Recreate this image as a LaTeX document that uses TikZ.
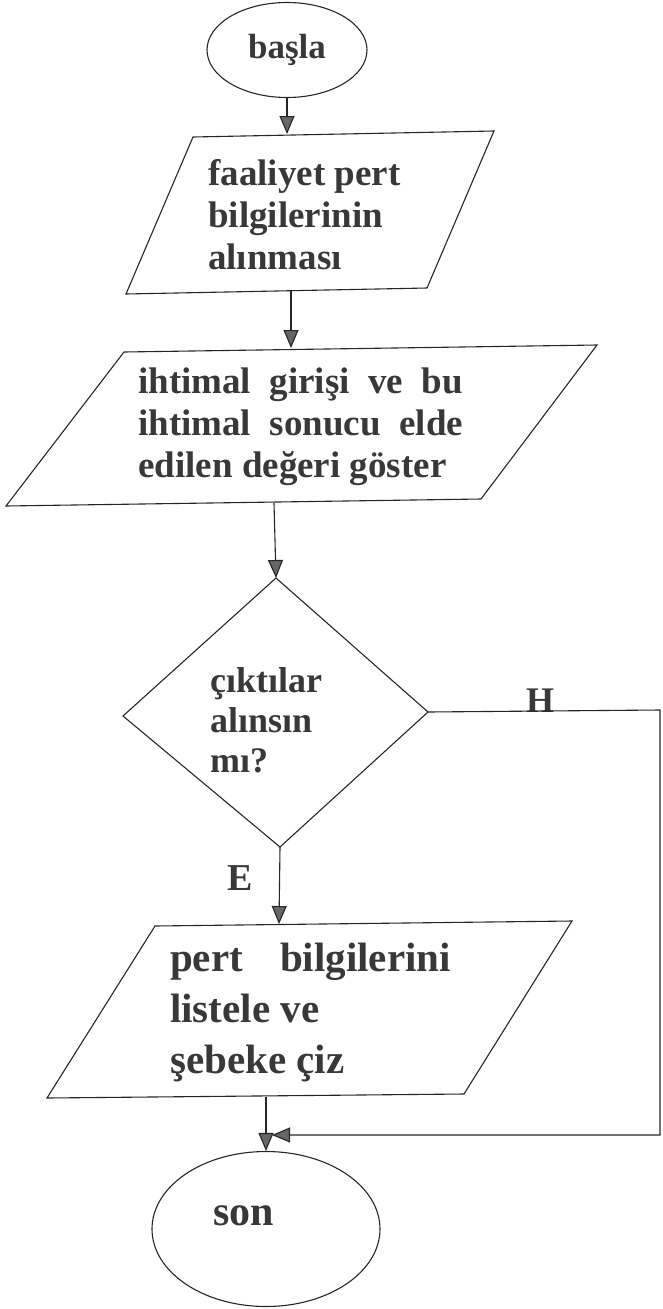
\documentclass[tikz,border=0pt]{standalone}
\usepackage{fontspec}
\newfontfamily\flfont{Liberation Serif}
\usetikzlibrary{shapes.geometric,arrows.meta}
\begin{document}
\begin{tikzpicture}[x=1pt,y=-1pt,
  ln/.style={draw=black!85,line width=1.1pt},
  arr/.style={ln,-{Triangle[length=18pt,width=15pt,fill=black!60]}},
  txt/.style={font=\flfont\bfseries\fontsize{37}{42}\selectfont,text=black!78,align=left,inner sep=0pt},
  lab/.style={font=\flfont\bfseries\fontsize{36}{36}\selectfont,text=black!78,inner sep=0pt}]
\useasboundingbox (0,0) rectangle (662,1309);
% start
\node[ellipse,ln,minimum width=160pt,minimum height=95pt,txt,font=\flfont\bfseries\fontsize{35}{35}\selectfont] (start) at (287,50) {başla};
% parallelogram 1
\coordinate (p1tl) at (193,137);
\coordinate (p1tr) at (494,131);
\coordinate (p1br) at (427,288);
\coordinate (p1bl) at (126,294);
\draw[ln] (p1tl) -- (p1tr) -- (p1br) -- (p1bl) -- cycle;
\coordinate (p1in) at (287,134);
\coordinate (p1out) at (291,291);
\node[txt,anchor=west] (t1) at (208,215) {faaliyet pert\\bilgilerinin\\alınması};
\draw[arr] (start.south) -- (p1in);
% parallelogram 2
\coordinate (p2tl) at (124,352);
\coordinate (p2tr) at (597,345);
\coordinate (p2br) at (481,499);
\coordinate (p2bl) at (6,506);
\draw[ln] (p2tl) -- (p2tr) -- (p2br) -- (p2bl) -- cycle;
\coordinate (p2in) at (291,348);
\coordinate (p2out) at (274,503);
\node[txt,anchor=west] (t2) at (138,427) {ihtimal\ \ girişi\ \ ve\ \ bu\\ihtimal\ \ sonucu\ \ elde\\edilen değeri göster};
\draw[arr] (p1out) -- (p2in);
% decision
\coordinate (dT) at (276,578);
\coordinate (dL) at (123,716);
\coordinate (dR) at (428,712);
\coordinate (dB) at (280,847);
\draw[ln] (dT) -- (dR) -- (dB) -- (dL) -- cycle;
\node[txt,anchor=west,font=\flfont\bfseries\fontsize{36}{40}\selectfont] (t3) at (210,720) {çıktılar\\alınsın\\mı?};
\draw[arr] (p2out) -- (dT);
% parallelogram 3
\coordinate (p3tl) at (155,926);
\coordinate (p3tr) at (572,921);
\coordinate (p3br) at (464,1094);
\coordinate (p3bl) at (47,1098);
\draw[ln] (p3tl) -- (p3tr) -- (p3br) -- (p3bl) -- cycle;
\coordinate (p3in) at (279,924);
\coordinate (p3out) at (266,1097);
\node[txt,anchor=west,font=\flfont\bfseries\fontsize{41}{51}\selectfont] (t4) at (170,1012) {pert\hspace{37pt}bilgilerini\\listele ve\\şebeke çiz};
\node[lab,anchor=base,font=\flfont\bfseries\fontsize{38}{38}\selectfont] (el) at (240,890) {E};
\draw[arr] (dB) -- (p3in);
% end
\node[ellipse,ln,minimum width=228pt,minimum height=155pt] (stop) at (266,1229) {};
\node[lab,font=\flfont\bfseries\fontsize{42}{42}\selectfont] (stopt) at (244,1216) {son};
\draw[arr] (p3out) -- (stop.north);
% no branch
\coordinate (h1) at (660,710);
\coordinate (h2) at (660,1135);
\coordinate (h3) at (272,1135);
\node[lab,anchor=base] (hl) at (540,712) {H};
\draw[arr] (dR) -- (h1) -- (h2) -- (h3);
\end{tikzpicture}
\end{document}
